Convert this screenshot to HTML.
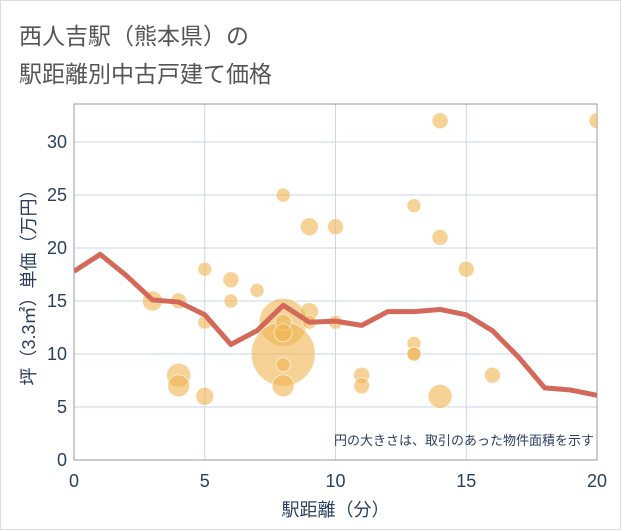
<!DOCTYPE html>
<html><head><meta charset="utf-8"><style>
body{margin:0;background:#fff}
#c{position:relative;width:621px;height:530px;background:#fff;border:1px solid #ddd;box-sizing:border-box;font-family:"Liberation Sans","Noto Sans CJK JP",sans-serif}
.t{position:absolute;left:18px;color:#555;font-size:23px}
</style></head><body>
<div id="c">
<div class="t" style="top:16px">西人吉駅（熊本県）の</div>
<div class="t" style="top:54px">駅距離別中古戸建て価格</div>
<svg id="s" width="621" height="530" style="position:absolute;left:0;top:0"></svg>
</div>
<script>
const lineX=[0,1,2,3,4,5,6,7,8,9,10,11,12,13,14,15,16,17,18,19,20];
const lineY=[17.8,19.4,17.4,15.1,14.9,13.7,10.9,12.2,14.6,13.0,13.1,12.7,14.0,14.0,14.2,13.7,12.2,9.7,6.8,6.6,6.1];
const ptX=[3,4,4,4,5,5,5,6,6,7,8,8,8,8,8,8,8,9,9,9,10,10,11,11,13,13,13,13,14,14,14,15,16,20];
const ptY=[15,15,8,7,18,13,6,17,15,16,25,13,10,13,12,9,7,22,14,13,22,13,8,7,24,11,10,10,32,21,6,18,8,32];
const ptR=[10,8,12,11,7,7,9,8,7,7,7,24,32,8,9,7,11,9,9,7,8,7,8,8,7,7,7,7,8,8,12,8,8,8];
const xTicks=[0,5,10,15,20];
const yTicks=[0,5,10,15,20,25,30];
const L=73,R=596,T=103,B=459;
const sx=v=>L+(v/20)*(R-L);
const sy=v=>B-(v/30)*(B-141);
const s=document.getElementById('s');
const NS='http://www.w3.org/2000/svg';
function mk(t,a,p){const e=document.createElementNS(NS,t);for(const k in a)e.setAttribute(k,a[k]);(p||s).appendChild(e);return e;}
const clip=mk('clipPath',{id:'cp'});mk('rect',{x:L,y:T,width:R-L,height:B-T},clip);
xTicks.forEach(v=>{
 const g=mk('line',{x1:sx(v),x2:sx(v),y1:T,y2:B,stroke:'#c8d6e8','stroke-width':1});
 
 const t=mk('text',{x:sx(v),y:486,'text-anchor':'middle','font-size':18,fill:'#2a3f5f'});t.textContent=v;
 
});
yTicks.forEach(v=>{
 const g=mk('line',{x1:L,x2:R,y1:sy(v),y2:sy(v),stroke:'#c8d6e8','stroke-width':1});
 
 const t=mk('text',{x:66,y:sy(v)+6,'text-anchor':'end','font-size':18,fill:'#2a3f5f'});t.textContent=v;
 
});
const fr=mk('rect',{x:L,y:T,width:R-L,height:B-T,fill:'none',stroke:'#999','stroke-width':1});

const gp=mk('g',{'clip-path':'url(#cp)'});
ptX.forEach((x,i)=>{
 const c=mk('circle',{cx:sx(x),cy:sy(ptY[i]),r:ptR[i],fill:'rgba(240,180,80,0.6)',stroke:'rgba(255,255,255,0.6)','stroke-width':1},gp);
 
});
const pl=mk('polyline',{points:lineX.map((x,i)=>sx(x)+','+sy(lineY[i])).join(' '),fill:'none',stroke:'#d4695a','stroke-width':5,'stroke-linejoin':'round'},gp);

const n=mk('text',{x:593,y:444,'text-anchor':'end','font-size':13,fill:'#2a3f5f'});n.textContent='円の大きさは、取引のあった物件面積を示す';

const xt=mk('text',{x:(L+R)/2,y:515,'text-anchor':'middle','font-size':18,fill:'#2a3f5f'});xt.textContent='駅距離（分）';

const yt=mk('text',{x:0,y:0,'text-anchor':'middle','font-size':18,fill:'#2a3f5f',transform:'translate(34,'+((T+B)/2+1)+') rotate(-90)'});yt.textContent='坪（3.3㎡）単価（万円）';

</script>
</body></html>
